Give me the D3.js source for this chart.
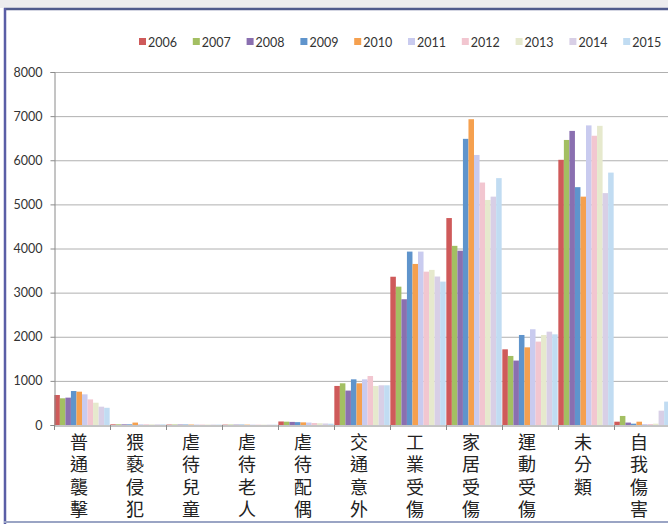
<!DOCTYPE html>
<html><head><meta charset="utf-8">
<script src="https://cdn.jsdelivr.net/npm/d3@7/dist/d3.min.js"></script>
<style>
html,body{margin:0;padding:0;background:#fff;}
svg{display:block;}
</style></head>
<body>
<svg id="c" width="668" height="524"></svg>
<script>
const categories = ["普通襲擊","猥褻侵犯","虐待兒童","虐待老人","虐待配偶","交通意外","工業受傷","家居受傷","運動受傷","未分類","自我傷害"];
const years = ["2006","2007","2008","2009","2010","2011","2012","2013","2014","2015"];
const yTicks = [0,1000,2000,3000,4000,5000,6000,7000,8000];
const v2006 = [680, 15, 10, 8, 80, 885, 3360, 4690, 1715, 6010, 75];
const v2007 = [605, 15, 10, 8, 75, 945, 3135, 4060, 1565, 6460, 205];
const v2008 = [620, 15, 10, 8, 70, 780, 2850, 3950, 1460, 6665, 55];
const v2009 = [770, 15, 10, 8, 65, 1035, 3930, 6485, 2040, 5390, 30];
const v2010 = [755, 55, 10, 8, 60, 945, 3650, 6930, 1760, 5175, 75];
const v2011 = [695, 15, 10, 8, 55, 1035, 3930, 6120, 2170, 6790, 20];
const v2012 = [580, 15, 10, 8, 45, 1110, 3475, 5495, 1890, 6555, 20];
const v2013 = [505, 15, 10, 8, 40, 885, 3515, 5100, 2040, 6780, 30];
const v2014 = [415, 15, 10, 8, 35, 900, 3365, 5175, 2115, 5255, 325];
const v2015 = [390, 15, 10, 8, 30, 900, 3250, 5595, 2055, 5720, 530];
const series = [v2006,v2007,v2008,v2009,v2010,v2011,v2012,v2013,v2014,v2015];
const colors = ["#cf5a5a","#a3bf62","#8a6fb0","#5f94cc","#f5a04f","#c9cbef","#f2c6d0","#e6e9cd","#d8cfe6","#c1dcf2"];

const svg = d3.select("#c");
// scan strip + frame
svg.append("rect").attr("x",0).attr("y",0).attr("width",668).attr("height",8).attr("fill","#ececee");
svg.append("line").attr("x1",4).attr("x2",668).attr("y1",9).attr("y2",9).attr("stroke","#4f5a8c").attr("stroke-width",2.5);
svg.append("line").attr("x1",5).attr("x2",5).attr("y1",8).attr("y2",524).attr("stroke","#5a5ea6").attr("stroke-width",2.5);
svg.append("line").attr("x1",4).attr("x2",668).attr("y1",522).attr("y2",522).attr("stroke","#9aa4c4").attr("stroke-width",2);

const x0 = d3.scaleBand().domain(categories).range([54, 670]).paddingInner(0).paddingOuter(0);
const x1 = d3.scaleBand().domain(years).range([0, x0.bandwidth()]).paddingOuter(0.06).paddingInner(0);
const y = d3.scaleLinear().domain([0,8000]).range([425,72]);

// gridlines
svg.append("g").selectAll("line").data(yTicks.filter(d=>d>0)).join("line")
  .attr("x1",54).attr("x2",668).attr("y1",d=>y(d)+0.5).attr("y2",d=>y(d)+0.5)
  .attr("stroke","#b0b0b0").attr("stroke-width",1);

// bars
const groups = svg.append("g").selectAll("g").data(categories).join("g")
  .attr("transform",c=>`translate(${x0(c)},0)`);
groups.selectAll("rect").data((c,i)=>years.map((yr,j)=>({yr, v: series[j][i], j}))).join("rect")
  .attr("x",d=>x1(d.yr)).attr("width",x1.bandwidth())
  .attr("y",d=>y(d.v)).attr("height",d=>y(0)-y(d.v))
  .attr("fill",d=>colors[d.j]);

// y axis
const yAxis = d3.axisLeft(y).tickValues(yTicks).tickFormat(d3.format("d")).tickSize(4).tickPadding(8);
const gy = svg.append("g").attr("transform","translate(54.5,0)").call(yAxis);
gy.select(".domain").attr("stroke","#8a8a8a");
gy.selectAll(".tick line").attr("stroke","#8a8a8a");
gy.selectAll("text").attr("font-family","Lato, 'Open Sans', sans-serif").attr("font-size","12.5px").attr("fill","#333");

// x axis
const xAxis = d3.axisBottom(x0).tickSize(0).tickFormat("");
const gx = svg.append("g").attr("transform","translate(0,425.5)").call(xAxis);
gx.select(".domain").attr("stroke","#8a8a8a");
svg.append("g").selectAll("line").data(categories.map(c=>x0(c)).concat([670])).join("line")
  .attr("x1",d=>d+0.5).attr("x2",d=>d+0.5).attr("y1",425).attr("y2",430).attr("stroke","#8a8a8a");

// category labels (vertical text)
svg.append("g").selectAll("text").data(categories).join("text")
  .attr("font-family","'Noto Sans CJK TC', sans-serif").attr("font-size","18px").attr("fill","#222")
  .style("writing-mode","vertical-rl").style("text-orientation","upright")
  .style("letter-spacing","4.5px")
  .attr("text-anchor","start")
  .attr("x", c => x0(c) + x0.bandwidth()/2 - 3)
  .attr("y", 433)
  .text(c => c);

// legend
const leg = svg.append("g").selectAll("g").data(years).join("g")
  .attr("transform",(d,i)=>`translate(${139 + i*53.8},38)`);
leg.append("rect").attr("width",7).attr("height",7).attr("fill",(d,i)=>colors[i]);
leg.append("text").attr("x",9).attr("y",8.5).text(d=>d)
  .attr("font-family","Lato, 'Open Sans', sans-serif").attr("font-size","12.5px").attr("fill","#333");
</script>
</body></html>
